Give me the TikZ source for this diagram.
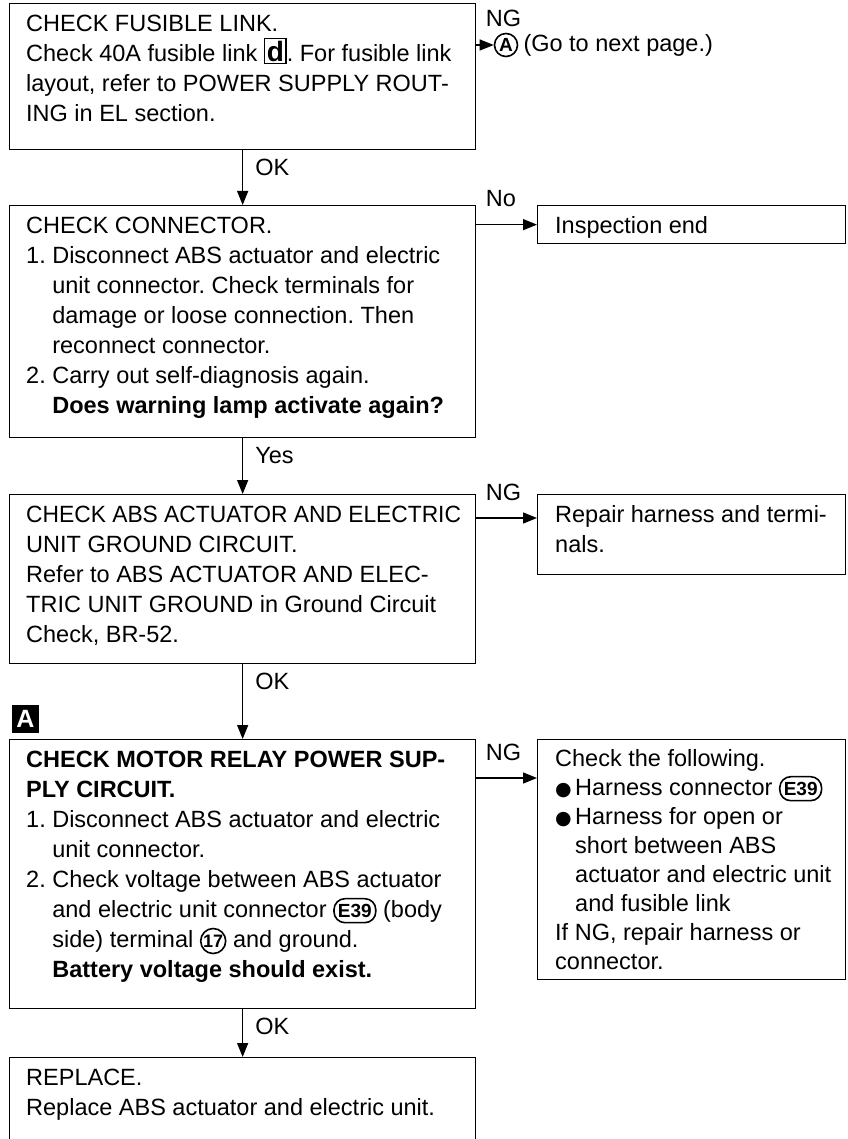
\documentclass[tikz,border=0pt]{standalone}
\usepackage{graphicx}
\usepackage{fontspec}
\setmainfont{Liberation Sans}
\newfontfamily\symfont{DejaVu Sans}
\usetikzlibrary{arrows.meta,positioning}

\tikzset{
  stepbox/.style={draw, line width=1.3pt, rectangle, anchor=north west, inner sep=0pt},
  steptext/.style={anchor=north west, inner sep=0pt, align=left,
                   font=\fontsize{23.5}{30}\selectfont},
  answer/.style={anchor=base west, inner sep=0pt, font=\fontsize{23.5}{30}\selectfont},
  flow/.style={line width=1.3pt, -{Triangle[length=14pt,width=11pt]}},
}
\newcommand{\topstrut}{\rule{0pt}{22pt}}
\newcommand{\ind}{\hphantom{1. }}
\newcommand{\bul}{\makebox[20pt][l]{\symfont\fontsize{19}{19}\selectfont ●}}
\newcommand{\bind}{\hspace*{20pt}}
\newcommand{\tight}[1]{\scalebox{0.97}[1]{#1}}
\newcommand{\fusebox}[1]{{\setlength{\fboxsep}{1.5pt}\setlength{\fboxrule}{1.4pt}%
  \fbox{\fontsize{28}{28}\selectfont\bfseries #1}}}
\newcommand{\conn}[1]{\tikz[baseline=(c.base)]\node[draw, line width=1.6pt,
  rounded corners=11pt, inner xsep=4pt, inner ysep=2pt, minimum height=24pt,
  text width=, align=center, anchor=base,
  font=\bfseries\fontsize{19}{19}\selectfont] (c) {#1};}
\newcommand{\pin}[1]{\tikz[baseline=(c.base)]\node[draw, circle, line width=1.6pt,
  inner sep=0pt, minimum size=25pt, text width=, align=center, anchor=base,
  font=\bfseries\fontsize{18}{18}\selectfont] (c) {#1};}

\begin{document}
\frenchspacing
\begin{tikzpicture}[x=1pt, y=1pt]
\useasboundingbox (0,0) rectangle (847,-1139);

% main steps
\node[stepbox, minimum width=466pt, minimum height=146pt] (fuse) at (9,-3) {};
\node[steptext] (fusetxt) at ([shift={(17,-6)}]fuse.north west)
  {\topstrut CHECK FUSIBLE LINK.\\
   Check 40A fusible link \fusebox{d}. For fusible link\\
   layout, refer to POWER SUPPLY ROUT-\\
   ING in EL section.};

\node[stepbox, minimum width=466pt, minimum height=232pt] (conn) at (9,-205) {};
\node[steptext] (conntxt) at ([shift={(17,-6)}]conn.north west)
  {\topstrut CHECK CONNECTOR.\\
   1. Disconnect ABS actuator and electric\\
   \ind unit connector. Check terminals for\\
   \ind damage or loose connection. Then\\
   \ind reconnect connector.\\
   2. Carry out self-diagnosis again.\\
   \ind\textbf{Does warning lamp activate again?}};

\node[stepbox, minimum width=466pt, minimum height=169pt] (ground) at (9,-494) {};
\node[steptext] (groundtxt) at ([shift={(17,-6)}]ground.north west)
  {\topstrut\tight{CHECK ABS ACTUATOR AND ELECTRIC}\\
   UNIT GROUND CIRCUIT.\\
   Refer to ABS ACTUATOR AND ELEC-\\
   TRIC UNIT GROUND in Ground Circuit\\
   Check, BR-52.};

\node[fill=black, text=white, inner sep=0pt, minimum width=27pt, minimum height=28pt,
      font=\bfseries\fontsize{25}{25}\selectfont] (markA) at (25.5,-719) {A};

\node[stepbox, minimum width=466pt, minimum height=269pt] (relay) at (9,-739) {};
\node[steptext] (relaytxt) at ([shift={(17,-6)}]relay.north west)
  {\topstrut\textbf{CHECK MOTOR RELAY POWER SUP-}\\
   \textbf{PLY CIRCUIT.}\\
   1. Disconnect ABS actuator and electric\\
   \ind unit connector.\\
   2. Check voltage between ABS actuator\\
   \ind and electric unit connector \conn{E39} (body\\
   \ind side) terminal \pin{17} and ground.\\
   \ind\textbf{Battery voltage should exist.}};

\node[stepbox, minimum width=466pt, minimum height=110pt] (replace) at (9,-1057) {};
\node[steptext] (replacetxt) at ([shift={(17,-6)}]replace.north west)
  {\topstrut REPLACE.\\
   Replace ABS actuator and electric unit.};

% side results
\node[circle, draw, line width=1.6pt, inner sep=0pt, minimum size=23pt,
      font=\bfseries\fontsize{19}{19}\selectfont] (conA) at (506,-45) {A};
\node[answer, anchor=west, right=5pt of conA] (nextpg) {(Go to next page.)};

\node[stepbox, minimum width=308pt, minimum height=38pt] (insp) at (537,-205) {};
\node[steptext] (insptxt) at ([shift={(18,-6)}]insp.north west) {\topstrut Inspection end};

\node[stepbox, minimum width=308pt, minimum height=80pt] (repair) at (537,-494) {};
\node[steptext] (repairtxt) at ([shift={(18,-6)}]repair.north west)
  {\topstrut Repair harness and termi-\\ nals.};

\node[stepbox, minimum width=308pt, minimum height=240pt] (check) at (537,-739) {};
\node[steptext, font=\fontsize{23.5}{29}\selectfont] (checktxt)
  at ([shift={(18,-5)}]check.north west)
  {\topstrut Check the following.\\
   \bul Harness connector \conn{E39}\\
   \bul Harness for open or\\
   \bind short between ABS\\
   \bind actuator and electric unit\\
   \bind and fusible link\\
   If NG, repair harness or\\
   connector.};

% connectors
\draw[flow] (fuse.south) -- (conn.north)
  node[answer, at start, xshift=12pt, yshift=-25pt] {OK};
\draw[flow] (conn.south) -- (ground.north)
  node[answer, at start, xshift=12pt, yshift=-25pt] {Yes};
\draw[flow] (ground.south) -- (relay.north)
  node[answer, at start, xshift=12pt, yshift=-25pt] {OK};
\draw[flow] (relay.south) -- (replace.north)
  node[answer, at start, xshift=12pt, yshift=-25pt] {OK};

\draw[flow] (fuse.east |- conA) -- (conA.west)
  node[answer, at start, xshift=9pt, yshift=18pt] {NG};
\draw[flow] (conn.east |- insp.west) -- (insp.west)
  node[answer, at start, xshift=9pt, yshift=18pt] {No};
\draw[flow] ([yshift=-24pt]ground.north east) -- ([yshift=-24pt]repair.north west)
  node[answer, at start, xshift=9pt, yshift=18pt] {NG};
\draw[flow] ([yshift=-39pt]relay.north east) -- ([yshift=-39pt]check.north west)
  node[answer, at start, xshift=9pt, yshift=18pt] {NG};
\end{tikzpicture}
\end{document}
